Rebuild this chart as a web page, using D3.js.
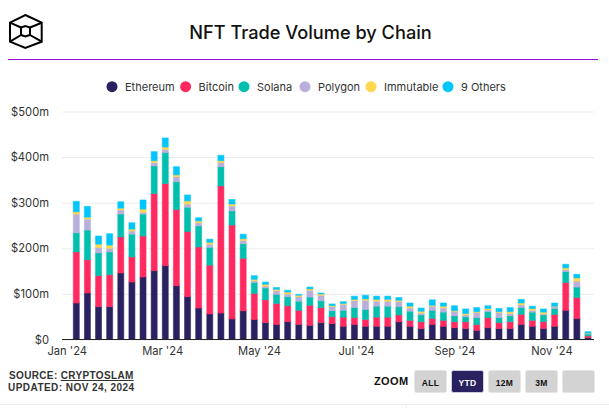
<!DOCTYPE html>
<html>
<head>
<meta charset="utf-8">
<script src="https://cdn.jsdelivr.net/npm/d3@7"></script>
<style>
  html, body { margin: 0; padding: 0; background: #fff; }
  svg { display: block; }
  text { font-family: Inter, "Noto Sans", sans-serif; }
</style>
</head>
<body>
<svg id="chart" width="609" height="408"></svg>
<script>
const seriesNames = ['Ethereum', 'Bitcoin', 'Solana', 'Polygon', 'Immutable', '9 Others']
const seriesColors = ['#2a2160', '#ff2b60', '#00bfae', '#b9afdc', '#ffd84d', '#00c6fb']
const firstWeek = '2024-01-07'

// weekly volumes in $m
const ethereum = [80,102,72,72,146,126,137,151,162,118,94,69,56,58,45,63,44,37,33,39,33,31,37,35,29,33,29,29,29,39,29,24,33,29,26,24,20,26,24,24,33,29,24,29,64,46,4]
const bitcoin = [112,73,68,70,79,55,90,169,180,167,143,134,107,279,206,115,57,50,46,35,31,44,33,15,20,15,15,20,20,15,13,15,13,13,13,15,13,22,13,15,22,13,15,26,61,46,4]
const solana = [42,65,50,50,50,50,48,61,68,61,53,46,39,42,31,32,24,26,20,20,20,18,15,13,15,22,22,24,24,18,20,15,18,18,13,11,15,13,11,13,15,18,15,13,24,23,4]
const polygon = [41,24,12,8,9,7,4,7,7,11,7,7,7,9,11,7,4,4,8,6,10,15,12,9,13,15,20,11,11,11,7,4,9,9,9,4,11,4,11,5,6,4,2,4,4,13,1]
const immutable = [5,4,7,7,4,4,7,4,5,4,7,4,4,4,4,4,3,4,3,4,3,3,3,2,2,3,3,4,4,3,4,4,2,4,2,3,2,3,2,4,4,4,4,1,4,7,1]
const others = [23,24,18,25,14,14,20,20,20,18,13,7,7,12,10,10,8,5,4,4,2,4,2,4,4,7,8,7,7,6,7,7,12,7,11,10,9,6,7,9,8,5,7,7,8,8,3]
const allSeries = [ethereum, bitcoin, solana, polygon, immutable, others]

const yTicks = [0, 100, 200, 300, 400, 500]
const xTickDates = ['2024-01-01', '2024-03-01', '2024-05-01', '2024-07-01', '2024-09-01', '2024-11-01']
const legendX = [112, 185.6, 244, 305, 371, 448]
const zoomButtons = ['ALL', 'YTD', '12M', '3M', '']

const parseDay = d3.utcParse('%Y-%m-%d')
const weeks = ethereum.map((o, i) => d3.utcDay.offset(parseDay(firstWeek), i * 7))

const svg = d3.select('#chart')

const x = d3.scaleUtc()
  .domain([parseDay(firstWeek), weeks[weeks.length - 1]])
  .range([76.3, 588])
const y = d3.scaleLinear().domain([0, 500]).range([339.5, 111.5])

// header
const logo = svg.append('g').attr('fill', 'none').attr('stroke', '#000').attr('stroke-width', 2)
logo.append('path').attr('d', 'M25.3 15 L41.7 22.7 L41.7 41.7 L25.3 48 L10 41.7 L10 22.7 Z')
logo.append('path').attr('d', 'M21 27.5 L25.3 26 L30 27.5 L30 35 L25.3 36.5 L21 35 Z')
logo.append('path').attr('d', 'M10 22.7 L21 27.5 M41.7 22.7 L30 27.5 M10 41.7 L21 35 M41.7 41.7 L30 35')
svg.append('line').attr('x1', 8).attr('x2', 598).attr('y1', 59.5).attr('y2', 59.5)
  .attr('stroke', '#9a10c8').attr('stroke-width', 1)
svg.append('text').attr('x', 310.5).attr('y', 39).attr('text-anchor', 'middle')
  .attr('font-size', 18.2).attr('font-weight', 500).attr('fill', '#111')
  .text('NFT Trade Volume by Chain')

// legend
seriesNames.forEach((name, i) => {
  svg.append('circle').attr('cx', legendX[i]).attr('cy', 86.7).attr('r', 5.5).attr('fill', seriesColors[i])
  svg.append('text').attr('x', legendX[i] + 13).attr('y', 91).attr('font-size', 11)
    .attr('fill', '#333').text(name)
})

// y axis with gridlines
const yAxis = svg.append('g').attr('transform', 'translate(62,0)')
  .call(d3.axisLeft(y).tickValues(yTicks).tickSize(-532).tickPadding(13)
    .tickFormat(d => d === 0 ? '$0' : '$' + d + 'm'))
yAxis.select('.domain').remove()
yAxis.selectAll('.tick line').attr('stroke', '#ececec')
yAxis.selectAll('.tick text').attr('font-size', 11.2).attr('fill', '#333')
  .style('font-family', 'Inter, sans-serif')

// stacked bars
const stack = d3.stack().keys(d3.range(allSeries.length)).value((d, k) => allSeries[k][d])
const layers = stack(d3.range(weeks.length))
svg.append('g').selectAll('g').data(layers).join('g')
  .attr('fill', (o, i) => seriesColors[i])
  .attr('stroke', (o, i) => seriesColors[i])
  .attr('stroke-opacity', 0.55)
  .selectAll('rect').data(o => o).join('rect')
  .attr('x', d => x(weeks[d.data]) - 3)
  .attr('width', 6)
  .attr('y', d => y(d[1]))
  .attr('height', d => Math.max(0, y(d[0]) - y(d[1])))

// x axis
const xAxis = svg.append('g').attr('transform', 'translate(0,339.5)')
  .call(d3.axisBottom(x).tickValues(xTickDates.map(parseDay)).tickSize(0).tickPadding(8)
    .tickFormat(d3.utcFormat("%b '%y")))
xAxis.select('.domain').remove()
xAxis.selectAll('.tick text').attr('font-size', 11.2).attr('fill', '#333')
  .style('font-family', 'Inter, sans-serif')
svg.append('line').attr('x1', 62).attr('x2', 594).attr('y1', 339.5).attr('y2', 339.5)
  .attr('stroke', '#222').attr('stroke-width', 1)

// footer
const footFont = '"Liberation Sans", Arial, sans-serif'
const source = svg.append('text').attr('x', 9).attr('y', 379).attr('font-size', 10)
  .attr('font-weight', 700).attr('letter-spacing', 0.35).attr('fill', '#333')
  .style('font-family', footFont)
source.append('tspan').text('SOURCE: ')
source.append('tspan').attr('text-decoration', 'underline').text('CRYPTOSLAM')
svg.append('text').attr('x', 8).attr('y', 391).attr('font-size', 10)
  .attr('font-weight', 700).attr('letter-spacing', 0.45).attr('fill', '#333')
  .style('font-family', footFont)
  .text('UPDATED: NOV 24, 2024')

svg.append('text').attr('x', 374).attr('y', 385).attr('font-size', 11)
  .attr('font-weight', 700).attr('letter-spacing', 0.4).attr('fill', '#111')
  .style('font-family', footFont).text('ZOOM')
zoomButtons.forEach((label, i) => {
  const bx = 414.5 + i * 37
  const active = label === 'YTD'
  svg.append('rect').attr('x', bx).attr('y', 370.5).attr('width', 32).attr('height', 22).attr('rx', 2)
    .attr('fill', active ? '#2a2160' : '#d3d3d3').attr('stroke', active ? '#cfcfe0' : '#e6e6e6')
  svg.append('text').attr('x', bx + 16).attr('y', 385.5).attr('text-anchor', 'middle')
    .attr('font-size', 8.5).attr('font-weight', 700).attr('letter-spacing', 0.3)
    .attr('fill', active ? '#fff' : '#111')
    .style('font-family', footFont).text(label)
})

// faint frame lines at the very bottom
svg.append('line').attr('x1', 0).attr('x2', 609).attr('y1', 404.5).attr('y2', 404.5).attr('stroke', '#eee')
svg.append('line').attr('x1', 406.5).attr('x2', 406.5).attr('y1', 404).attr('y2', 408).attr('stroke', '#eee')
</script>
</body>
</html>
